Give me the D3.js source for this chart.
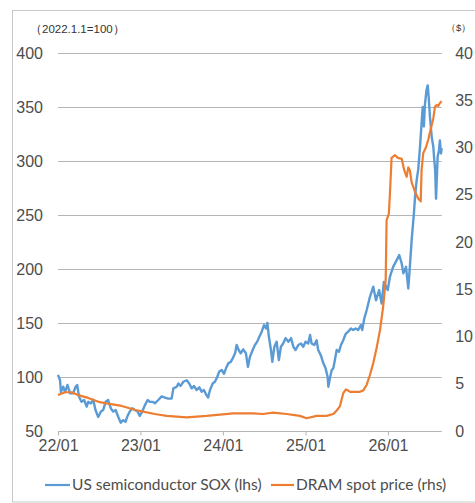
<!DOCTYPE html>
<html>
<head>
<meta charset="utf-8">
<script src="https://cdn.jsdelivr.net/npm/d3@7"></script>
<style>
  html, body { margin: 0; padding: 0; background: #fff; }
  svg { display: block; }
</style>
</head>
<body>
<div id="chart"></div>
<script>
// ---- Data ----
const xTickDates = ["2022-01-01", "2023-01-01", "2024-01-01", "2025-01-01", "2026-01-01"];
const leftTicks = [50, 100, 150, 200, 250, 300, 350, 400];
const rightTicks = [0, 5, 10, 15, 20, 25, 30, 35, 40];
const seriesNames = ["US semiconductor SOX (lhs)", "DRAM spot price (rhs)"];
const leftUnit = "（2022.1.1=100）";
const rightUnit = "（$）";

const soxDates = [
  "2022-01-01","2022-01-10","2022-01-14","2022-01-24","2022-02-01","2022-02-12","2022-02-23","2022-03-09",
  "2022-03-20","2022-03-27","2022-04-04","2022-04-15","2022-04-27","2022-05-08","2022-05-15","2022-05-27",
  "2022-06-06","2022-06-16","2022-06-28","2022-07-10","2022-07-20","2022-07-31","2022-08-11","2022-08-23",
  "2022-09-02","2022-09-13","2022-09-25","2022-10-06","2022-10-17","2022-10-27","2022-11-05","2022-11-15",
  "2022-11-26","2022-12-07","2022-12-19","2022-12-29","2023-01-09","2023-01-21","2023-02-02","2023-02-12",
  "2023-02-24","2023-03-06","2023-03-21","2023-04-05","2023-04-20","2023-05-04","2023-05-19","2023-05-27",
  "2023-06-11","2023-06-18","2023-06-28","2023-07-10","2023-07-25","2023-08-05","2023-08-16","2023-08-26",
  "2023-09-07","2023-09-19","2023-09-29","2023-10-09","2023-10-21","2023-10-28","2023-11-05","2023-11-17",
  "2023-11-27","2023-12-07","2023-12-16","2023-12-27","2024-01-06","2024-01-15","2024-01-25","2024-02-05",
  "2024-02-13","2024-02-24","2024-03-02","2024-03-11","2024-03-20","2024-03-31","2024-04-12","2024-04-21",
  "2024-04-30","2024-05-12","2024-05-22","2024-06-01","2024-06-10","2024-06-21","2024-07-01","2024-07-10",
  "2024-07-16","2024-07-23","2024-08-01","2024-08-07","2024-08-16","2024-08-26","2024-09-05","2024-09-14",
  "2024-09-24","2024-10-05","2024-10-17","2024-10-29","2024-11-08","2024-11-18","2024-11-30","2024-12-12",
  "2024-12-22","2025-01-01","2025-01-13","2025-01-21","2025-01-28","2025-02-09","2025-02-19","2025-02-26",
  "2025-03-10","2025-03-21","2025-03-31","2025-04-09","2025-04-12","2025-04-19","2025-04-27","2025-05-04",
  "2025-05-11","2025-05-19","2025-05-29","2025-06-07","2025-06-17","2025-06-28","2025-07-09","2025-07-21",
  "2025-07-31","2025-08-11","2025-08-22","2025-09-03","2025-09-09","2025-09-18","2025-09-29","2025-10-13",
  "2025-10-28","2025-11-09","2025-11-23","2025-12-04","2025-12-14","2025-12-31","2026-01-10","2026-01-24",
  "2026-02-08","2026-02-20","2026-03-03","2026-03-10","2026-03-22","2026-04-01","2026-04-08","2026-04-16",
  "2026-04-26","2026-05-01","2026-05-08","2026-05-15","2026-05-23","2026-05-30","2026-06-04","2026-06-09",
  "2026-06-14","2026-06-21","2026-06-26","2026-06-30","2026-07-06","2026-07-14","2026-07-21","2026-07-25",
  "2026-07-29","2026-08-02","2026-08-05","2026-08-09","2026-08-15","2026-08-19","2026-08-24","2026-08-27"
];
const soxValues = [
  102, 97, 86, 91, 86, 92.6, 85, 85,
  91, 92.6, 81.8, 77, 78.7, 72.5, 77, 75.6,
  79, 69.4, 63, 68, 69.4, 77, 78.7, 71,
  68, 69.4, 63, 57.7, 60, 58.6, 64, 68,
  71, 69.4, 68, 64, 68, 74, 78.7, 77,
  77, 75.6, 78.7, 82, 81, 80, 80, 89.5,
  91, 94, 91.7, 95.6, 97, 94, 89.5, 91.7,
  88, 90.4, 86.4, 88, 83, 81, 88, 94,
  95.6, 100, 105, 106.5, 103, 108, 112.7, 114,
  117, 122, 129.6, 125, 122, 125.6, 122, 109.5,
  118.8, 125, 129.6, 132.7, 137, 142, 148, 145,
  150, 137, 125, 114, 128, 132.7, 115.7, 128,
  131, 136, 132.7, 136, 128, 125, 129.6, 131,
  128, 132.7, 131, 139, 131, 129.6, 134, 125,
  120, 112.7, 108, 100, 91, 98.8, 106.5, 108,
  115.7, 125, 123.4, 129.6, 134, 140, 142, 145,
  143.5, 145, 143.5, 148, 143.5, 154, 162, 174,
  183.6, 171, 180.5, 168, 188, 180.5, 193, 202,
  208, 213, 205, 196, 202, 182, 202, 227,
  251.6, 267, 282, 292, 313, 335, 350, 332,
  353, 366, 370, 360, 341, 322, 313, 301,
  292, 265, 282, 304, 310, 319, 307, 312
];

const dramDates = [
  "2022-01-01","2022-02-01","2022-03-02","2022-03-31","2022-05-15","2022-07-05","2022-07-28","2022-10-10",
  "2022-12-22","2023-03-06","2023-04-27","2023-07-25","2023-10-21","2024-02-16","2024-05-14","2024-06-27",
  "2024-08-11","2024-10-09","2024-12-07","2025-01-06","2025-02-19","2025-04-04","2025-05-04","2025-05-20",
  "2025-06-02","2025-06-17","2025-06-29","2025-07-17","2025-08-30","2025-09-14","2025-09-29","2025-10-13",
  "2025-10-28","2025-11-12","2025-11-27","2025-12-11","2025-12-22","2025-12-26","2026-01-05","2026-01-10",
  "2026-01-17","2026-02-01","2026-02-14","2026-03-03","2026-03-14","2026-03-25","2026-04-01","2026-04-08",
  "2026-04-16","2026-05-01","2026-05-15","2026-05-26","2026-05-30","2026-06-06","2026-06-18","2026-06-28",
  "2026-07-09","2026-07-21","2026-07-28","2026-08-05","2026-08-12","2026-08-19","2026-08-27"
];
const dramValues = [
  3.8, 4.1, 4.1, 3.8, 3.5, 3.05, 2.95, 2.65,
  2.15, 1.8, 1.6, 1.45, 1.6, 1.87, 1.87, 1.8,
  1.94, 1.8, 1.6, 1.35, 1.6, 1.6, 1.8, 2.2,
  2.6, 4.0, 4.4, 4.15, 4.15, 4.3, 4.9, 5.9,
  7.2, 8.8, 10.7, 13.2, 16, 22.3, 23, 25.2,
  28.9, 29.2, 28.9, 28.8, 27.6, 26.9, 27.9, 27.6,
  26.3, 25.3, 24.6, 24.3, 27.6, 29.4, 30, 30.8,
  31.9, 33.1, 34.3, 34.5, 34.4, 34.7, 34.9
];
const xDomain = ["2022-01-01", "2026-08-27"];

// ---- Drawing ----
const W = 475, H = 503;
const parse = d3.timeParse("%Y-%m-%d");
const colors = ["#5b9bd5", "#ed7d31"];
const tickFont = "'Liberation Sans', Arial, sans-serif";
const legendFont = "Lato, 'Open Sans', sans-serif";

const svg = d3.select("#chart").append("svg").attr("width", W).attr("height", H);

// outer frame
svg.append("rect").attr("x", 12.5).attr("y", 10.5).attr("width", 480).attr("height", 491.5)
  .attr("fill", "none").attr("stroke", "#c9c9c9").attr("stroke-width", 1);

const plot = { left: 58, right: 441.7, top: 53, bottom: 431 };

const x = d3.scaleTime().domain(xDomain.map(parse)).range([plot.left, plot.right]);
const yL = d3.scaleLinear().domain([50, 400]).range([plot.bottom, plot.top]);
const yR = d3.scaleLinear().domain([0, 40]).range([plot.bottom, plot.top]);

// gridlines
svg.append("g").selectAll("line").data(leftTicks).join("line")
  .attr("x1", plot.left).attr("x2", plot.right)
  .attr("y1", d => Math.round(yL(d)) + 0.5).attr("y2", d => Math.round(yL(d)) + 0.5)
  .attr("stroke", "#b4b4b4").attr("stroke-width", 1);

// left axis labels
const gL = svg.append("g").attr("transform", `translate(${plot.left},0)`)
  .call(d3.axisLeft(yL).tickValues(leftTicks).tickSize(0).tickPadding(15).tickFormat(d3.format("d")));
gL.select(".domain").remove();
gL.selectAll("text").attr("font-family", tickFont).attr("font-size", 16).attr("fill", "#4d4d4d");

// right axis labels
const gR = svg.append("g").attr("transform", `translate(${plot.right},0)`)
  .call(d3.axisRight(yR).tickValues(rightTicks).tickSize(0).tickPadding(13.5).tickFormat(d3.format("d")));
gR.select(".domain").remove();
gR.selectAll("text").attr("font-family", tickFont).attr("font-size", 16).attr("fill", "#4d4d4d");

// x axis
const gX = svg.append("g").attr("transform", `translate(0,${Math.round(plot.bottom) + 0.5})`)
  .call(d3.axisBottom(x).tickValues(xTickDates.map(parse)).tickSize(4).tickPadding(4)
    .tickFormat(d3.timeFormat("%y/%m")));
gX.select(".domain").remove();
gX.selectAll("line").attr("stroke", "#b4b4b4");
gX.selectAll("text").attr("font-family", tickFont).attr("font-size", 16).attr("fill", "#4d4d4d");

// units
svg.append("text").attr("x", 30).attr("y", 33).text(leftUnit)
  .attr("font-family", tickFont).attr("font-size", 11.5).attr("fill", "#333");
svg.append("text").attr("x", 446).attr("y", 31).text(rightUnit)
  .attr("font-family", tickFont).attr("font-size", 9.5).attr("fill", "#333");

// lines
const soxData = soxDates.map((d, i) => ({ date: parse(d), value: soxValues[i] }));
const dramData = dramDates.map((d, i) => ({ date: parse(d), value: dramValues[i] }));

svg.append("path").datum(soxData)
  .attr("fill", "none").attr("stroke", colors[0]).attr("stroke-width", 2.4)
  .attr("stroke-linejoin", "round")
  .attr("d", d3.line().x(d => x(d.date)).y(d => yL(d.value)));

svg.append("path").datum(dramData)
  .attr("fill", "none").attr("stroke", colors[1]).attr("stroke-width", 2.2)
  .attr("stroke-linejoin", "round")
  .attr("d", d3.line().x(d => x(d.date)).y(d => yR(d.value)));

// legend
const legendItems = [
  { name: seriesNames[0], color: colors[0], x1: 45, x2: 70, tx: 72 },
  { name: seriesNames[1], color: colors[1], x1: 271, x2: 294, tx: 296 }
];
const lg = svg.append("g");
lg.selectAll("line").data(legendItems).join("line")
  .attr("x1", d => d.x1).attr("x2", d => d.x2).attr("y1", 485).attr("y2", 485)
  .attr("stroke", d => d.color).attr("stroke-width", 2.2);
lg.selectAll("text").data(legendItems).join("text")
  .attr("x", d => d.tx).attr("y", 485).attr("dy", "0.35em")
  .attr("font-family", legendFont).attr("font-size", 15.5).attr("fill", "#4d4d4d")
  .text(d => d.name);
</script>
</body>
</html>
